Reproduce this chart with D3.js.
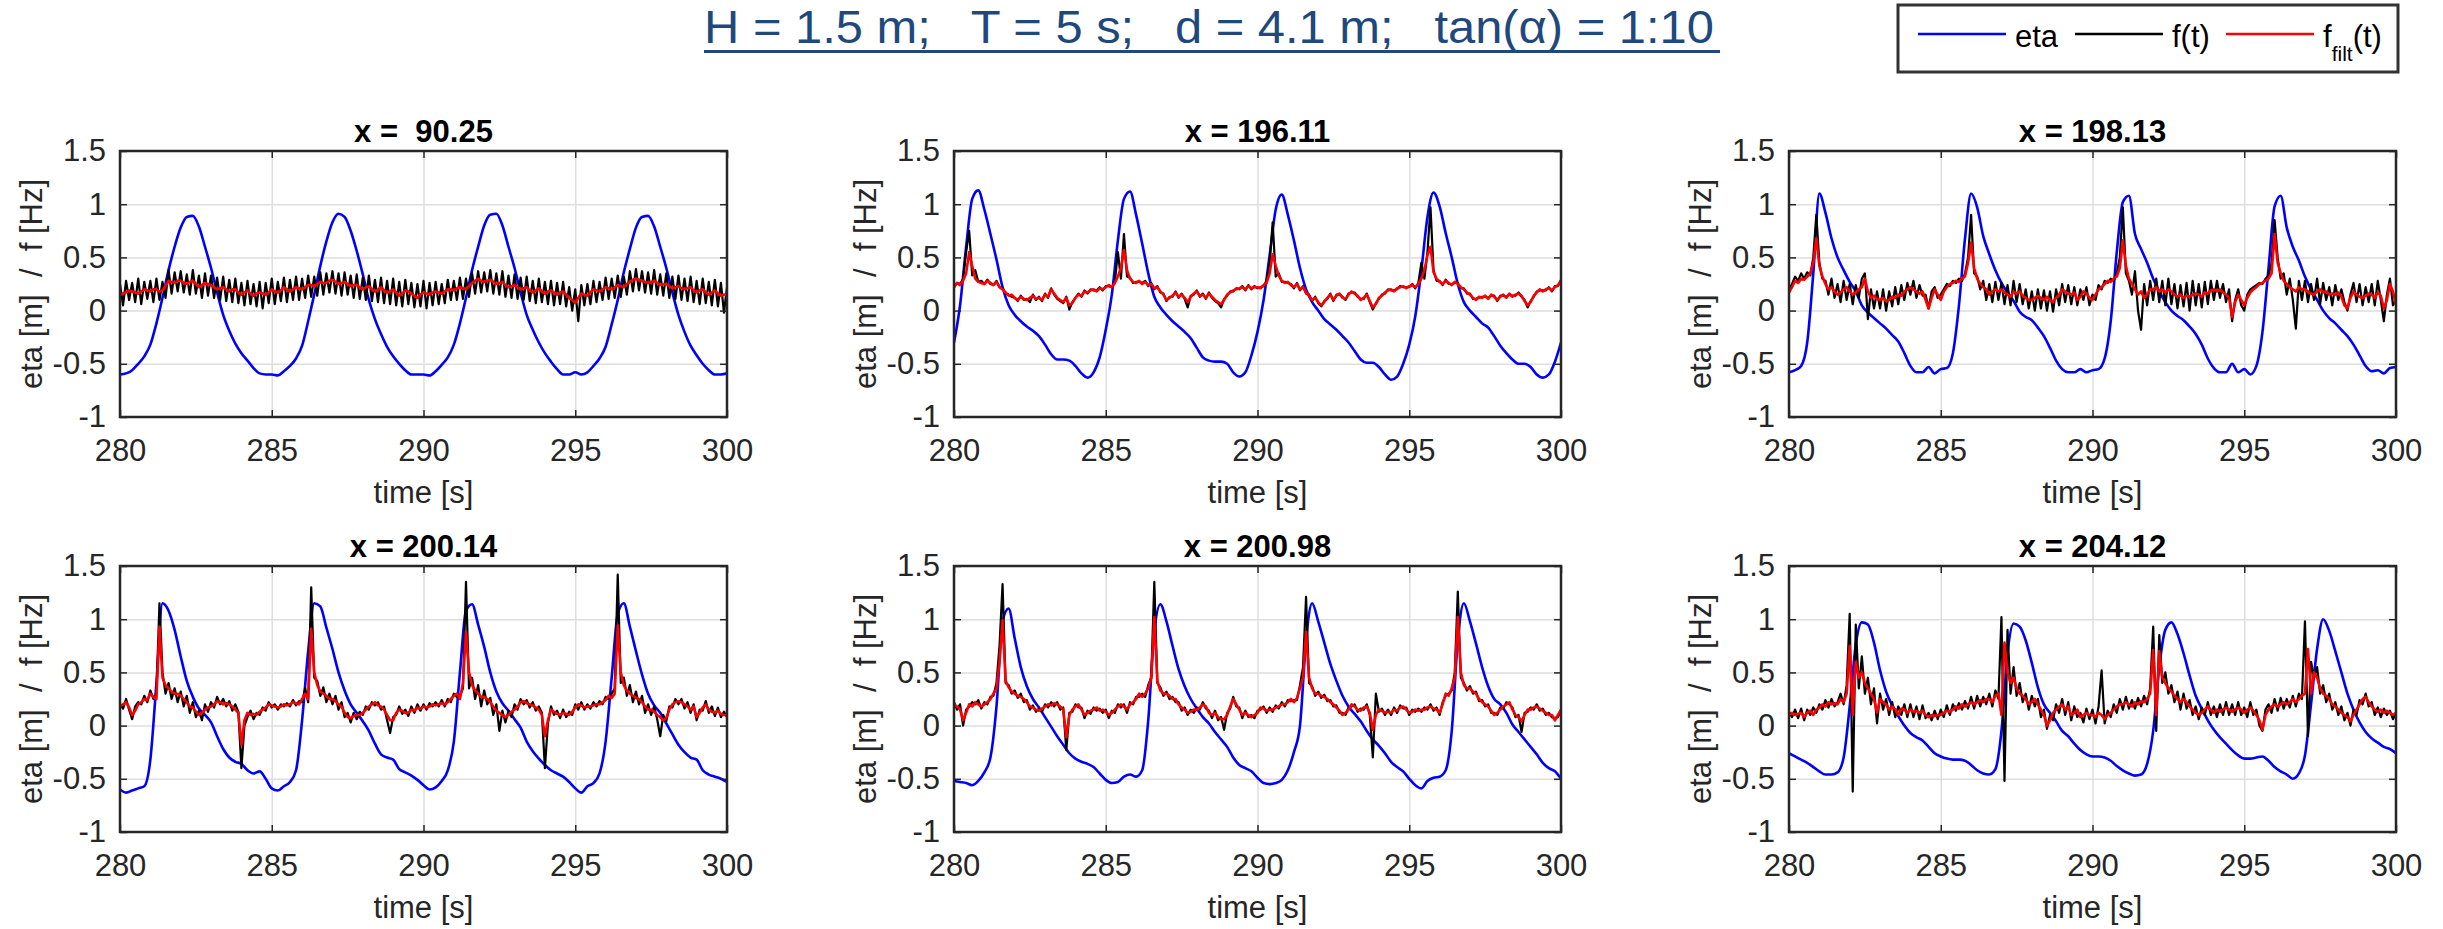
<!DOCTYPE html>
<html>
<head>
<meta charset="utf-8">
<script src="https://cdn.jsdelivr.net/npm/d3@7"></script>
<style>
  body { margin: 0; background: #fff; }
  svg { display: block; }
  text { font-family: "Liberation Sans", Arial, Helvetica, sans-serif; }
</style>
</head>
<body>
<svg id="chart" width="2443" height="929"></svg>
<script>
// ---------------- DATA ----------------
const figureTitle = "H = 1.5 m;   T = 5 s;   d = 4.1 m;   tan(\u03b1) = 1:10";
const panelTitles = ["x =  90.25", "x = 196.11", "x = 198.13", "x = 200.14", "x = 200.98", "x = 204.12"];
const xLabel = "time [s]";
const yLabel = "eta [m]  /  f [Hz]";
const xTicks = [280, 285, 290, 295, 300];
const xTickLabels = ["280", "285", "290", "295", "300"];
const yTicks = [-1, -0.5, 0, 0.5, 1, 1.5];
const yTickLabels = ["-1", "-0.5", "0", "0.5", "1", "1.5"];
const seriesNames = ["eta", "f(t)", "f_filt(t)"];
const tStart = 280;      // s
const etaStep = 0.2;     // s between eta samples
const fStep = 0.1;       // s between f samples

// eta (surface elevation, blue), 280 .. 300 s every 0.2 s
const eta1 = [-0.6,-0.59,-0.56,-0.5,-0.43,-0.32,-0.12,0.12,0.38,0.6,
0.78,0.88,0.89,0.79,0.6,0.4,0.17,-0.04,-0.19,-0.31,
-0.4,-0.47,-0.54,-0.59,-0.6,-0.6,-0.61,-0.57,-0.52,-0.45,
-0.33,-0.1,0.15,0.42,0.65,0.83,0.91,0.88,0.75,0.56,
0.34,0.1,-0.08,-0.22,-0.34,-0.43,-0.5,-0.56,-0.6,-0.6,
-0.6,-0.61,-0.57,-0.51,-0.44,-0.32,-0.12,0.12,0.38,0.6,
0.8,0.9,0.91,0.8,0.6,0.4,0.17,-0.04,-0.18,-0.3,
-0.4,-0.48,-0.55,-0.6,-0.6,-0.58,-0.6,-0.58,-0.52,-0.45,
-0.34,-0.13,0.1,0.36,0.58,0.78,0.88,0.89,0.79,0.6,
0.4,0.17,-0.04,-0.2,-0.33,-0.42,-0.5,-0.56,-0.6,-0.6,
-0.59];
const eta2 = [-0.3,0.05,0.6,1.05,1.13,0.95,0.72,0.48,0.22,0.05,
-0.04,-0.1,-0.15,-0.19,-0.24,-0.32,-0.41,-0.46,-0.46,-0.47,
-0.52,-0.59,-0.63,-0.58,-0.44,-0.18,0.15,0.66,1.05,1.12,
0.9,0.63,0.35,0.13,0.03,-0.04,-0.1,-0.15,-0.2,-0.26,
-0.35,-0.44,-0.47,-0.48,-0.48,-0.5,-0.58,-0.62,-0.58,-0.42,
-0.2,0.1,0.52,0.95,1.09,0.9,0.66,0.4,0.2,0.08,
0.0,-0.08,-0.13,-0.18,-0.24,-0.3,-0.38,-0.46,-0.49,-0.49,
-0.53,-0.6,-0.65,-0.62,-0.5,-0.32,-0.05,0.38,0.88,1.11,
0.98,0.73,0.5,0.25,0.08,0.0,-0.06,-0.12,-0.16,-0.24,
-0.33,-0.4,-0.46,-0.5,-0.5,-0.53,-0.6,-0.63,-0.6,-0.48,
-0.3];
const eta3 = [-0.58,-0.56,-0.52,-0.3,0.35,1.1,0.92,0.68,0.5,0.38,
0.27,0.18,0.05,-0.02,-0.07,-0.12,-0.17,-0.23,-0.29,-0.4,
-0.52,-0.58,-0.58,-0.53,-0.59,-0.55,-0.54,-0.4,0.05,0.68,
1.1,0.97,0.7,0.53,0.38,0.26,0.17,0.09,-0.01,-0.06,
-0.09,-0.16,-0.24,-0.35,-0.47,-0.55,-0.58,-0.58,-0.55,-0.58,
-0.56,-0.55,-0.45,-0.1,0.55,1.02,1.08,0.72,0.58,0.45,
0.3,0.18,0.08,0.0,-0.05,-0.09,-0.15,-0.22,-0.32,-0.45,
-0.54,-0.58,-0.58,-0.5,-0.58,-0.55,-0.6,-0.52,-0.2,0.4,
0.98,1.08,0.78,0.6,0.47,0.32,0.2,0.1,0.0,-0.07,
-0.12,-0.18,-0.24,-0.32,-0.42,-0.52,-0.57,-0.56,-0.59,-0.54,
-0.53];
const eta4 = [-0.6,-0.63,-0.61,-0.59,-0.57,-0.32,0.4,1.15,1.08,0.9,
0.65,0.42,0.27,0.16,0.1,0.03,-0.1,-0.22,-0.3,-0.34,
-0.36,-0.42,-0.45,-0.43,-0.5,-0.59,-0.61,-0.57,-0.53,-0.42,
0.05,0.7,1.15,1.12,0.92,0.72,0.5,0.33,0.2,0.12,
0.04,-0.05,-0.17,-0.27,-0.3,-0.32,-0.41,-0.44,-0.47,-0.51,
-0.56,-0.6,-0.58,-0.52,-0.42,-0.15,0.5,1.08,1.14,0.95,
0.74,0.5,0.32,0.21,0.14,0.06,-0.02,-0.15,-0.24,-0.31,
-0.37,-0.42,-0.45,-0.48,-0.53,-0.59,-0.63,-0.57,-0.54,-0.45,
-0.15,0.45,1.05,1.15,0.93,0.7,0.48,0.3,0.19,0.12,
0.02,-0.08,-0.18,-0.25,-0.3,-0.32,-0.42,-0.46,-0.48,-0.5,
-0.53];
const eta5 = [-0.52,-0.53,-0.54,-0.56,-0.52,-0.44,-0.3,0.18,0.98,1.1,
0.82,0.55,0.37,0.25,0.17,0.08,-0.01,-0.1,-0.18,-0.26,
-0.31,-0.34,-0.36,-0.39,-0.45,-0.51,-0.54,-0.53,-0.48,-0.46,
-0.48,-0.42,0.05,0.88,1.14,0.98,0.75,0.53,0.37,0.25,
0.16,0.08,0.02,-0.06,-0.13,-0.2,-0.3,-0.37,-0.4,-0.43,
-0.49,-0.54,-0.55,-0.54,-0.51,-0.42,-0.25,0.0,0.8,1.15,
0.98,0.78,0.58,0.42,0.28,0.18,0.11,0.04,-0.05,-0.13,
-0.19,-0.26,-0.34,-0.39,-0.43,-0.5,-0.56,-0.59,-0.52,-0.49,
-0.48,-0.42,-0.05,0.8,1.15,0.98,0.77,0.55,0.37,0.25,
0.2,0.12,0.01,-0.06,-0.13,-0.2,-0.27,-0.35,-0.4,-0.43,
-0.5];
const eta6 = [-0.26,-0.29,-0.32,-0.35,-0.39,-0.43,-0.46,-0.46,-0.44,-0.3,
0.18,0.76,0.97,0.95,0.78,0.52,0.32,0.19,0.09,0.0,
-0.07,-0.11,-0.14,-0.2,-0.26,-0.29,-0.31,-0.32,-0.32,-0.33,
-0.37,-0.42,-0.45,-0.46,-0.41,-0.05,0.68,0.96,0.93,0.8,
0.59,0.36,0.2,0.12,0.04,-0.05,-0.1,-0.17,-0.23,-0.27,
-0.29,-0.29,-0.3,-0.33,-0.38,-0.42,-0.45,-0.47,-0.46,-0.36,
-0.05,0.55,0.9,0.97,0.86,0.68,0.47,0.28,0.16,0.05,
-0.04,-0.11,-0.17,-0.23,-0.28,-0.31,-0.31,-0.3,-0.29,-0.33,
-0.39,-0.43,-0.46,-0.5,-0.45,-0.28,0.2,0.72,1.0,0.89,
0.7,0.5,0.3,0.15,0.03,-0.06,-0.12,-0.16,-0.2,-0.22,
-0.26];

// f(t) (raw frequency, black), 280 .. 300 s every 0.1 s
const f1 = [0.25,0.05,0.28,0.1,0.26,0.08,0.3,0.06,0.27,0.11,
0.28,0.08,0.3,0.1,0.27,0.12,0.38,0.16,0.36,0.18,
0.37,0.17,0.34,0.15,0.38,0.16,0.33,0.12,0.35,0.14,
0.33,0.12,0.31,0.1,0.32,0.09,0.29,0.08,0.3,0.07,
0.26,0.05,0.28,0.06,0.25,0.04,0.27,0.02,0.26,0.07,
0.3,0.06,0.27,0.09,0.31,0.08,0.29,0.1,0.32,0.1,
0.3,0.12,0.33,0.13,0.32,0.14,0.36,0.15,0.35,0.17,
0.37,0.16,0.35,0.14,0.36,0.15,0.33,0.12,0.34,0.11,
0.31,0.1,0.33,0.09,0.29,0.08,0.31,0.07,0.28,0.06,
0.3,0.05,0.27,0.04,0.29,0.06,0.26,0.03,0.25,0.04,
0.28,0.02,0.26,0.05,0.27,0.06,0.25,0.07,0.29,0.1,
0.28,0.1,0.31,0.11,0.3,0.13,0.35,0.16,0.37,0.17,
0.36,0.18,0.38,0.16,0.35,0.15,0.37,0.13,0.33,0.12,
0.34,0.11,0.31,0.1,0.32,0.09,0.28,0.07,0.3,0.08,
0.27,0.06,0.28,0.05,0.26,0.06,0.27,0.04,0.22,0.0,
0.2,-0.1,0.24,0.05,0.25,0.06,0.28,0.08,0.27,0.1,
0.31,0.11,0.3,0.12,0.33,0.13,0.32,0.15,0.37,0.18,
0.39,0.19,0.37,0.17,0.36,0.16,0.38,0.15,0.34,0.14,
0.35,0.12,0.32,0.11,0.33,0.1,0.3,0.09,0.32,0.08,
0.28,0.06,0.3,0.07,0.27,0.05,0.29,0.04,0.26,-0.02,
0.22];
const f2 = [0.22,0.26,0.25,0.3,0.55,0.75,0.33,0.38,0.27,0.28,
0.25,0.29,0.25,0.24,0.28,0.22,0.21,0.16,0.15,0.13,
0.12,0.09,0.14,0.1,0.11,0.08,0.15,0.1,0.13,0.09,
0.16,0.12,0.21,0.15,0.11,0.09,0.07,0.13,0.01,0.08,
0.12,0.16,0.13,0.19,0.16,0.2,0.19,0.19,0.22,0.19,
0.23,0.23,0.22,0.27,0.55,0.3,0.72,0.32,0.31,0.26,
0.27,0.27,0.26,0.28,0.23,0.26,0.2,0.23,0.17,0.16,
0.09,0.13,0.13,0.18,0.12,0.16,0.11,0.03,0.14,0.15,
0.19,0.13,0.16,0.11,0.17,0.12,0.09,0.07,0.03,0.11,
0.14,0.18,0.18,0.21,0.2,0.23,0.19,0.24,0.2,0.23,
0.21,0.22,0.23,0.28,0.45,0.83,0.32,0.35,0.27,0.27,
0.26,0.25,0.21,0.26,0.19,0.23,0.16,0.15,0.09,0.13,
0.07,0.04,0.09,0.11,0.16,0.09,0.15,0.15,0.13,0.1,
0.16,0.17,0.17,0.13,0.11,0.11,0.16,0.08,0.01,0.07,
0.11,0.15,0.16,0.2,0.19,0.19,0.2,0.23,0.22,0.22,
0.22,0.25,0.21,0.26,0.45,0.3,0.55,0.97,0.38,0.28,
0.28,0.24,0.29,0.25,0.25,0.26,0.26,0.21,0.21,0.16,
0.16,0.11,0.11,0.12,0.13,0.13,0.12,0.14,0.14,0.09,
0.14,0.14,0.13,0.15,0.14,0.14,0.17,0.13,0.1,0.03,
0.09,0.13,0.18,0.19,0.19,0.19,0.22,0.18,0.23,0.23,
0.29];
const f3 = [0.2,0.25,0.32,0.28,0.35,0.3,0.36,0.33,0.5,0.9,
0.45,0.3,0.28,0.15,0.3,0.12,0.25,0.08,0.28,0.1,
0.25,0.06,0.24,0.12,0.3,0.35,-0.08,0.2,0.02,0.18,
0.02,0.2,0.0,0.18,0.04,0.22,0.06,0.24,0.1,0.26,
0.15,0.28,0.12,0.24,0.14,0.15,0.02,0.18,0.22,0.12,
0.15,0.2,0.25,0.23,0.28,0.26,0.3,0.28,0.35,0.5,
0.9,0.35,0.32,0.2,0.28,0.1,0.25,0.08,0.27,0.1,
0.26,0.06,0.24,0.05,0.28,0.08,0.25,0.06,0.2,0.02,
0.18,0.0,0.2,0.02,0.19,0.0,0.18,-0.01,0.2,0.05,
0.25,0.08,0.24,0.06,0.22,0.05,0.2,0.1,0.22,0.05,
0.15,0.1,0.24,0.2,0.28,0.26,0.3,0.28,0.35,0.5,
0.97,0.35,0.28,0.15,0.37,0.0,-0.18,0.25,0.05,0.28,
0.1,0.3,0.08,0.28,0.05,0.3,0.06,0.25,0.02,0.24,
0.04,0.26,0.0,0.28,0.05,0.25,0.03,0.27,0.06,0.28,
0.1,0.28,0.12,0.25,0.08,0.2,-0.1,0.1,0.2,0.05,
0.0,0.15,0.2,0.22,0.24,0.26,0.25,0.3,0.33,0.45,
0.85,0.5,0.3,0.35,0.15,0.3,0.1,-0.17,0.28,0.1,
0.28,0.08,0.25,0.1,0.3,0.06,0.26,0.1,0.22,0.05,
0.24,0.1,0.2,0.08,0.0,0.15,0.26,0.08,0.25,0.05,
0.22,0.08,0.25,0.05,0.28,0.1,-0.1,0.15,0.3,0.05,
0.1];
const f4 = [0.2,0.16,0.25,0.15,0.06,0.18,0.22,0.2,0.28,0.22,
0.33,0.25,0.3,1.15,0.5,0.3,0.4,0.25,0.35,0.22,
0.32,0.18,0.28,0.12,0.22,0.08,0.14,0.05,0.2,0.13,
0.22,0.17,0.27,0.2,0.25,0.18,0.23,0.14,0.2,0.13,
-0.4,0.0,0.08,0.14,0.06,0.12,0.1,0.17,0.14,0.22,
0.17,0.2,0.15,0.2,0.18,0.21,0.18,0.24,0.19,0.23,
0.22,0.35,0.22,1.3,0.45,0.42,0.28,0.36,0.22,0.3,
0.2,0.28,0.15,0.22,0.08,0.12,0.03,0.12,0.06,0.13,
0.1,0.18,0.15,0.22,0.19,0.22,0.15,0.18,0.05,-0.07,
0.08,0.1,0.18,0.11,0.15,0.09,0.18,0.12,0.2,0.14,
0.2,0.15,0.21,0.18,0.22,0.18,0.24,0.18,0.25,0.22,
0.3,0.27,0.28,0.35,1.35,0.35,0.45,0.25,0.38,0.18,
0.33,0.2,0.26,0.1,0.2,-0.05,0.14,0.03,0.14,0.08,
0.2,0.15,0.25,0.2,0.24,0.17,0.22,0.14,0.18,0.12,
-0.4,0.02,0.18,0.1,0.14,0.07,0.15,0.08,0.13,0.1,
0.2,0.15,0.22,0.15,0.2,0.16,0.22,0.18,0.23,0.2,
0.27,0.25,0.3,0.35,1.42,0.4,0.45,0.28,0.38,0.22,
0.32,0.2,0.28,0.12,0.2,0.1,0.18,0.06,-0.1,0.1,
0.04,0.18,0.17,0.25,0.2,0.25,0.16,0.22,0.12,0.2,
0.05,0.15,0.14,0.23,0.12,0.18,0.09,0.17,0.08,0.13,
0.08];
const f5 = [0.22,0.15,0.2,0.0,0.15,0.18,0.22,0.2,0.24,0.16,
0.22,0.2,0.27,0.28,0.4,0.75,1.33,0.4,0.38,0.3,
0.33,0.26,0.3,0.22,0.24,0.15,0.19,0.13,0.16,0.13,
0.2,0.17,0.22,0.18,0.22,0.15,0.17,-0.23,0.12,0.13,
0.2,0.17,0.17,0.07,0.14,0.11,0.17,0.14,0.16,0.12,
0.15,0.07,0.14,0.12,0.2,0.17,0.2,0.12,0.22,0.2,
0.27,0.27,0.3,0.27,0.38,0.45,1.35,0.4,0.36,0.28,
0.32,0.25,0.27,0.22,0.22,0.14,0.17,0.1,0.15,0.12,
0.17,0.15,0.22,0.16,0.14,0.07,0.14,0.05,0.08,-0.04,
0.12,0.16,0.27,0.18,0.17,0.07,0.14,0.08,0.1,0.07,
0.14,0.15,0.18,0.12,0.17,0.13,0.19,0.16,0.22,0.18,
0.24,0.23,0.24,0.24,0.38,0.55,1.21,0.4,0.37,0.28,
0.32,0.26,0.29,0.23,0.24,0.18,0.19,0.12,0.12,0.1,
0.17,0.18,0.2,0.13,0.16,0.15,0.2,0.1,-0.3,0.3,
0.13,0.16,0.1,0.15,0.1,0.17,0.12,0.19,0.16,0.17,
0.1,0.15,0.13,0.16,0.13,0.17,0.15,0.2,0.14,0.17,
0.1,0.22,0.28,0.3,0.33,0.5,1.26,0.45,0.4,0.33,
0.37,0.3,0.32,0.23,0.24,0.18,0.2,0.12,0.12,0.1,
0.17,0.16,0.22,0.2,0.17,0.08,0.1,-0.06,0.12,0.13,
0.17,0.15,0.2,0.14,0.16,0.1,0.12,0.08,0.07,0.08,
0.14];
const f6 = [0.13,0.08,0.15,0.07,0.16,0.05,0.15,0.1,0.17,0.12,
0.2,0.15,0.24,0.17,0.25,0.18,0.22,0.3,0.2,0.38,
1.05,-0.62,0.95,0.35,0.65,0.3,0.45,0.2,0.35,0.02,
0.3,0.15,0.25,0.1,0.22,0.08,0.18,0.1,0.2,0.08,
0.2,0.08,0.18,0.06,0.19,0.07,0.12,0.05,0.14,0.06,
0.15,0.08,0.19,0.1,0.2,0.14,0.21,0.15,0.23,0.16,
0.27,0.16,0.28,0.18,0.27,0.2,0.3,0.18,0.33,0.25,
1.02,-0.52,0.9,0.3,0.55,0.28,0.4,0.22,0.3,0.15,
0.28,0.18,0.25,0.08,0.15,-0.03,0.1,0.05,0.2,0.12,
0.25,0.1,0.22,0.05,0.18,0.08,0.12,0.03,0.16,0.06,
0.15,0.02,0.18,0.52,0.02,0.14,0.08,0.2,0.12,0.25,
0.15,0.27,0.16,0.24,0.16,0.26,0.18,0.28,0.2,0.35,
0.93,-0.05,0.85,0.4,0.5,0.3,0.38,0.22,0.32,0.15,
0.3,0.16,0.24,0.1,0.18,0.06,0.17,0.1,0.22,0.1,
0.18,0.08,0.2,0.1,0.22,0.1,0.2,0.1,0.22,0.1,
0.17,0.08,0.22,0.1,0.15,0.0,-0.05,0.15,0.2,0.12,
0.25,0.14,0.26,0.16,0.25,0.17,0.28,0.18,0.3,0.25,
0.98,-0.1,0.6,0.45,0.55,0.3,0.38,0.22,0.3,0.15,
0.22,0.1,0.18,0.05,0.12,0.0,0.15,0.1,0.24,0.2,
0.3,0.18,0.22,0.1,0.17,0.08,0.16,0.1,0.14,0.06,
0.12];

// f_filt(t) (filtered frequency, red), 280 .. 300 s every 0.1 s
const filt1 = [0.15,0.16,0.17,0.19,0.18,0.17,0.16,0.18,0.2,0.19,
0.18,0.2,0.2,0.18,0.19,0.23,0.28,0.27,0.26,0.28,
0.28,0.26,0.25,0.27,0.28,0.25,0.22,0.24,0.26,0.25,
0.24,0.22,0.2,0.21,0.22,0.2,0.18,0.2,0.2,0.17,
0.15,0.17,0.19,0.16,0.14,0.16,0.17,0.16,0.15,0.17,
0.2,0.18,0.17,0.19,0.22,0.2,0.18,0.2,0.22,0.21,
0.2,0.22,0.24,0.24,0.23,0.25,0.27,0.26,0.26,0.28,
0.29,0.27,0.25,0.26,0.27,0.25,0.23,0.24,0.24,0.22,
0.2,0.22,0.23,0.2,0.18,0.2,0.22,0.19,0.17,0.18,
0.2,0.17,0.14,0.16,0.19,0.18,0.16,0.14,0.12,0.15,
0.17,0.16,0.15,0.17,0.18,0.17,0.16,0.18,0.2,0.2,
0.19,0.21,0.22,0.21,0.2,0.23,0.26,0.28,0.3,0.28,
0.27,0.28,0.29,0.27,0.25,0.26,0.27,0.24,0.22,0.23,
0.24,0.22,0.2,0.21,0.22,0.19,0.17,0.19,0.21,0.18,
0.16,0.18,0.19,0.17,0.15,0.17,0.18,0.15,0.12,0.1,
0.07,0.12,0.16,0.15,0.14,0.17,0.2,0.19,0.18,0.2,
0.22,0.21,0.2,0.22,0.24,0.23,0.22,0.25,0.27,0.29,
0.3,0.29,0.28,0.27,0.26,0.27,0.28,0.26,0.24,0.25,
0.25,0.23,0.21,0.22,0.23,0.21,0.2,0.21,0.22,0.19,
0.17,0.19,0.2,0.17,0.15,0.17,0.19,0.16,0.14,0.15,
0.15];
const filt2 = [0.22,0.26,0.24,0.28,0.35,0.55,0.42,0.3,0.27,0.26,
0.25,0.28,0.26,0.24,0.27,0.22,0.2,0.17,0.14,0.15,
0.12,0.1,0.13,0.11,0.1,0.12,0.14,0.11,0.12,0.1,
0.15,0.13,0.2,0.16,0.12,0.1,0.08,0.12,0.05,0.07,
0.12,0.15,0.14,0.18,0.17,0.19,0.2,0.18,0.21,0.2,
0.22,0.24,0.22,0.26,0.32,0.4,0.57,0.38,0.3,0.27,
0.26,0.28,0.25,0.27,0.24,0.25,0.21,0.22,0.18,0.15,
0.1,0.12,0.14,0.17,0.13,0.15,0.12,0.08,0.13,0.16,
0.18,0.14,0.15,0.12,0.16,0.13,0.1,0.08,0.06,0.1,
0.15,0.17,0.19,0.2,0.21,0.22,0.2,0.23,0.21,0.22,
0.22,0.21,0.24,0.26,0.35,0.53,0.42,0.33,0.28,0.26,
0.27,0.24,0.22,0.25,0.2,0.22,0.17,0.14,0.1,0.12,
0.08,0.05,0.08,0.12,0.15,0.1,0.14,0.16,0.12,0.11,
0.15,0.18,0.16,0.14,0.1,0.12,0.15,0.09,0.03,0.06,
0.12,0.14,0.17,0.19,0.2,0.18,0.21,0.22,0.23,0.21,
0.23,0.24,0.22,0.25,0.3,0.38,0.52,0.6,0.36,0.3,
0.27,0.25,0.28,0.26,0.24,0.27,0.25,0.22,0.2,0.17,
0.15,0.12,0.1,0.13,0.12,0.14,0.11,0.15,0.13,0.1,
0.13,0.15,0.12,0.16,0.13,0.15,0.16,0.14,0.09,0.05,
0.08,0.14,0.17,0.2,0.18,0.2,0.21,0.19,0.22,0.24,
0.28];
const filt3 = [0.17,0.22,0.28,0.26,0.3,0.29,0.32,0.35,0.45,0.68,
0.42,0.32,0.25,0.2,0.22,0.18,0.15,0.17,0.2,0.22,
0.18,0.15,0.17,0.2,0.22,0.3,0.18,0.12,0.14,0.11,
0.1,0.12,0.09,0.1,0.13,0.12,0.15,0.14,0.18,0.2,
0.22,0.2,0.18,0.16,0.18,0.1,0.02,0.12,0.2,0.15,
0.1,0.18,0.22,0.25,0.26,0.28,0.27,0.3,0.32,0.45,
0.64,0.4,0.3,0.25,0.22,0.2,0.15,0.18,0.2,0.18,
0.2,0.17,0.15,0.13,0.18,0.16,0.18,0.14,0.12,0.1,
0.1,0.12,0.14,0.12,0.1,0.13,0.1,0.08,0.12,0.15,
0.2,0.18,0.16,0.15,0.17,0.1,0.13,0.18,0.16,0.12,
0.1,0.15,0.2,0.22,0.25,0.28,0.27,0.3,0.32,0.4,
0.66,0.42,0.3,0.25,0.2,0.15,0.18,0.12,0.15,0.2,
0.2,0.22,0.18,0.2,0.17,0.2,0.18,0.15,0.13,0.15,
0.12,0.14,0.13,0.15,0.16,0.15,0.13,0.17,0.16,0.19,
0.2,0.18,0.2,0.17,0.15,0.12,-0.06,0.08,0.15,0.1,
0.05,0.12,0.17,0.2,0.22,0.25,0.26,0.28,0.3,0.35,
0.72,0.45,0.35,0.28,0.25,0.22,0.2,0.18,0.22,0.2,
0.2,0.18,0.16,0.15,0.18,0.2,0.17,0.18,0.15,0.16,
0.15,0.17,0.13,0.05,0.02,0.12,0.18,0.15,0.13,0.12,
0.14,0.16,0.15,0.12,0.17,0.14,0.02,0.1,0.25,0.18,
0.05];
const filt4 = [0.18,0.2,0.22,0.17,0.1,0.14,0.2,0.22,0.25,0.24,
0.3,0.27,0.25,0.93,0.45,0.38,0.35,0.32,0.3,0.3,
0.28,0.25,0.22,0.18,0.17,0.13,0.1,0.12,0.15,0.17,
0.18,0.2,0.23,0.22,0.2,0.21,0.2,0.18,0.15,0.12,
-0.18,0.05,0.12,0.1,0.11,0.1,0.13,0.15,0.17,0.2,
0.19,0.18,0.17,0.18,0.2,0.19,0.2,0.22,0.21,0.2,
0.25,0.3,0.25,0.91,0.5,0.38,0.32,0.3,0.28,0.25,
0.25,0.23,0.2,0.18,0.12,0.08,0.07,0.09,0.1,0.1,
0.12,0.15,0.18,0.2,0.22,0.19,0.18,0.15,0.1,0.05,
0.05,0.12,0.15,0.14,0.12,0.12,0.15,0.14,0.17,0.16,
0.18,0.17,0.18,0.2,0.19,0.2,0.21,0.2,0.22,0.25,
0.28,0.3,0.25,0.4,0.88,0.5,0.38,0.33,0.3,0.27,
0.27,0.25,0.22,0.18,0.14,0.12,0.1,0.08,0.1,0.13,
0.15,0.18,0.22,0.23,0.21,0.2,0.19,0.17,0.15,0.1,
-0.1,0.05,0.15,0.13,0.11,0.1,0.12,0.11,0.1,0.13,
0.17,0.2,0.19,0.17,0.18,0.18,0.19,0.2,0.2,0.22,
0.24,0.28,0.26,0.3,0.94,0.5,0.38,0.33,0.3,0.28,
0.26,0.25,0.22,0.18,0.15,0.15,0.13,0.1,0.08,0.05,
0.07,0.15,0.2,0.22,0.23,0.22,0.2,0.18,0.15,0.18,
0.08,0.12,0.17,0.2,0.15,0.13,0.12,0.14,0.11,0.1,
0.1];
const filt5 = [0.2,0.18,0.15,0.05,0.12,0.2,0.18,0.22,0.2,0.18,
0.2,0.22,0.25,0.3,0.35,0.6,0.99,0.42,0.36,0.32,
0.3,0.28,0.27,0.25,0.22,0.18,0.17,0.15,0.14,0.16,
0.18,0.2,0.19,0.21,0.2,0.18,0.15,-0.11,0.1,0.15,
0.18,0.2,0.15,0.1,0.12,0.14,0.15,0.17,0.14,0.15,
0.13,0.1,0.12,0.15,0.18,0.2,0.18,0.15,0.2,0.22,
0.25,0.3,0.27,0.3,0.35,0.45,1.02,0.42,0.33,0.3,
0.3,0.28,0.25,0.25,0.2,0.17,0.15,0.12,0.13,0.15,
0.15,0.17,0.2,0.18,0.12,0.1,0.12,0.08,0.06,0.06,
0.1,0.18,0.25,0.2,0.15,0.1,0.12,0.1,0.08,0.1,
0.12,0.17,0.16,0.14,0.15,0.15,0.17,0.18,0.2,0.2,
0.22,0.25,0.22,0.26,0.35,0.45,0.88,0.45,0.35,0.3,
0.3,0.28,0.27,0.25,0.22,0.2,0.17,0.14,0.1,0.12,
0.15,0.2,0.18,0.15,0.14,0.17,0.18,0.12,-0.04,0.1,
0.15,0.14,0.12,0.13,0.12,0.15,0.14,0.17,0.18,0.15,
0.12,0.13,0.15,0.14,0.15,0.15,0.17,0.18,0.16,0.15,
0.12,0.2,0.3,0.28,0.35,0.45,1.02,0.5,0.38,0.35,
0.35,0.32,0.3,0.25,0.22,0.2,0.18,0.14,0.1,0.12,
0.15,0.18,0.2,0.22,0.15,0.1,0.08,0.04,0.1,0.15,
0.15,0.17,0.18,0.16,0.14,0.12,0.1,0.1,0.05,0.1,
0.15];
const filt6 = [0.1,0.12,0.1,0.11,0.12,0.08,0.12,0.14,0.1,0.15,
0.17,0.2,0.18,0.22,0.2,0.21,0.2,0.25,0.22,0.3,
0.75,0.1,0.6,0.45,0.5,0.4,0.35,0.3,0.25,0.12,
0.25,0.22,0.2,0.15,0.18,0.15,0.1,0.16,0.15,0.12,
0.15,0.13,0.14,0.12,0.14,0.1,0.08,0.1,0.09,0.1,
0.1,0.12,0.14,0.13,0.15,0.18,0.16,0.2,0.18,0.2,
0.22,0.2,0.22,0.24,0.22,0.25,0.25,0.22,0.28,0.3,
0.1,0.78,0.5,0.4,0.45,0.35,0.3,0.28,0.25,0.2,
0.22,0.25,0.2,0.15,0.1,0.0,0.05,0.12,0.15,0.18,
0.2,0.15,0.18,0.1,0.12,0.15,0.08,0.1,0.12,0.1,
0.1,0.08,0.12,0.1,0.06,0.1,0.12,0.15,0.18,0.2,
0.2,0.22,0.2,0.18,0.22,0.2,0.23,0.22,0.25,0.3,
0.71,0.1,0.7,0.45,0.4,0.35,0.32,0.28,0.25,0.22,
0.25,0.22,0.18,0.15,0.12,0.1,0.12,0.15,0.18,0.15,
0.12,0.15,0.13,0.15,0.17,0.15,0.13,0.15,0.17,0.15,
0.12,0.15,0.17,0.14,0.1,0.05,-0.04,0.1,0.15,0.18,
0.2,0.18,0.2,0.22,0.2,0.22,0.25,0.22,0.25,0.28,
0.3,0.72,0.3,0.5,0.45,0.35,0.3,0.28,0.25,0.2,
0.18,0.15,0.12,0.1,0.08,0.04,0.1,0.15,0.2,0.25,
0.27,0.22,0.18,0.15,0.13,0.15,0.12,0.14,0.12,0.1,
0.12];

const etaSeries = [eta1, eta2, eta3, eta4, eta5, eta6];
const fSeries = [f1, f2, f3, f4, f5, f6];
const filtSeries = [filt1, filt2, filt3, filt4, filt5, filt6];

// ---------------- LAYOUT / STYLE ----------------
const colLeft = [120, 954, 1789];
const rowTop = [151, 566];
const PW = 607, PH = 266;
const colors = { eta: "#0000ff", f: "#000000", filt: "#ff0000" };
const axisColor = "#262626";
const gridColor = "#dedede";
const fontPx = 31;

const svg = d3.select("#chart");
svg.append("rect").attr("width", 2443).attr("height", 929).attr("fill", "#ffffff");

const x = d3.scaleLinear().domain([280, 300]).range([0, PW]);
const y = d3.scaleLinear().domain([-1, 1.5]).range([PH, 0]);

const lineEta = d3.line().x((d, i) => x(tStart + i * etaStep)).y(d => y(d)).curve(d3.curveMonotoneX);
const lineF = d3.line().x((d, i) => x(tStart + i * fStep)).y(d => y(d));

function styleAxis(sel) {
  sel.attr("font-size", null).attr("font-family", null).attr("color", axisColor);
  sel.select(".domain").remove();
  sel.selectAll("line").attr("stroke-width", 1.5);
  sel.selectAll("text").attr("font-size", fontPx).attr("fill", axisColor);
}

panelTitles.forEach((title, k) => {
  const g = svg.append("g")
    .attr("transform", `translate(${colLeft[k % 3]},${rowTop[Math.floor(k / 3)]})`);

  // grid
  g.append("g").attr("transform", `translate(0,${PH})`)
    .call(d3.axisBottom(x).tickValues(xTicks.slice(1, -1)).tickSize(-PH).tickFormat(""))
    .call(s => { s.select(".domain").remove(); s.selectAll("line").attr("stroke", gridColor).attr("stroke-width", 1.5); });
  g.append("g")
    .call(d3.axisLeft(y).tickValues(yTicks.slice(1, -1)).tickSize(-PW).tickFormat(""))
    .call(s => { s.select(".domain").remove(); s.selectAll("line").attr("stroke", gridColor).attr("stroke-width", 1.5); });

  // data
  const cid = "clip" + k;
  g.append("clipPath").attr("id", cid).append("rect").attr("width", PW).attr("height", PH);
  const lines = g.append("g").attr("clip-path", `url(#${cid})`)
    .attr("fill", "none").attr("stroke-linejoin", "round").attr("stroke-linecap", "round");
  lines.append("path").datum(etaSeries[k]).attr("d", lineEta)
    .attr("stroke", colors.eta).attr("stroke-width", 2.6);
  lines.append("path").datum(fSeries[k]).attr("d", lineF)
    .attr("stroke", colors.f).attr("stroke-width", 2.2);
  lines.append("path").datum(filtSeries[k]).attr("d", lineF)
    .attr("stroke", colors.filt).attr("stroke-width", 2.6);

  // axes (ticks inside, box on)
  g.append("g").attr("transform", `translate(0,${PH})`)
    .call(d3.axisBottom(x).tickValues(xTicks).tickFormat(d => xTickLabels[xTicks.indexOf(d)])
      .tickSizeInner(-7).tickSizeOuter(0).tickPadding(22))
    .call(styleAxis);
  g.append("g")
    .call(d3.axisLeft(y).tickValues(yTicks).tickFormat(d => yTickLabels[yTicks.indexOf(d)])
      .tickSizeInner(-7).tickSizeOuter(0).tickPadding(14))
    .call(styleAxis);
  g.append("g")
    .call(d3.axisTop(x).tickValues(xTicks).tickFormat("").tickSizeInner(-7).tickSizeOuter(0))
    .call(styleAxis);
  g.append("g").attr("transform", `translate(${PW},0)`)
    .call(d3.axisRight(y).tickValues(yTicks).tickFormat("").tickSizeInner(-7).tickSizeOuter(0))
    .call(styleAxis);

  g.append("rect").attr("width", PW).attr("height", PH)
    .attr("fill", "none").attr("stroke", axisColor).attr("stroke-width", 2.5);

  // labels
  g.append("text").attr("x", PW / 2).attr("y", -9)
    .attr("text-anchor", "middle").attr("font-size", fontPx).attr("font-weight", "bold")
    .attr("fill", "#000").style("white-space", "pre").text(title);
  g.append("text").attr("x", PW / 2).attr("y", PH + 86)
    .attr("text-anchor", "middle").attr("font-size", fontPx).attr("fill", axisColor).text(xLabel);
  g.append("text").attr("transform", `translate(-78,${PH / 2}) rotate(-90)`)
    .attr("text-anchor", "middle").attr("font-size", fontPx).attr("fill", axisColor)
    .style("white-space", "pre").text(yLabel);
});

// figure title
const titleColor = "#1f497d";
svg.append("text").attr("x", 704).attr("y", 43)
  .attr("font-size", 46).attr("fill", titleColor)
  .attr("textLength", 1010).attr("lengthAdjust", "spacingAndGlyphs")
  .style("white-space", "pre").text(figureTitle);
svg.append("rect").attr("x", 704).attr("y", 50).attr("width", 1016).attr("height", 3).attr("fill", titleColor);

// legend
const leg = svg.append("g");
leg.append("rect").attr("x", 1898).attr("y", 5).attr("width", 500).attr("height", 67)
  .attr("fill", "#fff").attr("stroke", "#333").attr("stroke-width", 3);
const legX = [1918, 2075, 2226];
const legColors = [colors.eta, colors.f, colors.filt];
seriesNames.forEach((name, i) => {
  leg.append("line").attr("x1", legX[i]).attr("x2", legX[i] + 88).attr("y1", 34).attr("y2", 34)
    .attr("stroke", legColors[i]).attr("stroke-width", 2.4);
  const t = leg.append("text").attr("x", legX[i] + 97).attr("y", 47)
    .attr("font-size", fontPx).attr("fill", "#000");
  const m = name.match(/^(\w)_(\w+)(.*)$/);
  if (m) {
    t.append("tspan").text(m[1]);
    t.append("tspan").attr("dy", 14).attr("font-size", 21).text(m[2]);
    t.append("tspan").attr("dy", -14).text(m[3]);
  } else {
    t.text(name);
  }
});
</script>
</body>
</html>
